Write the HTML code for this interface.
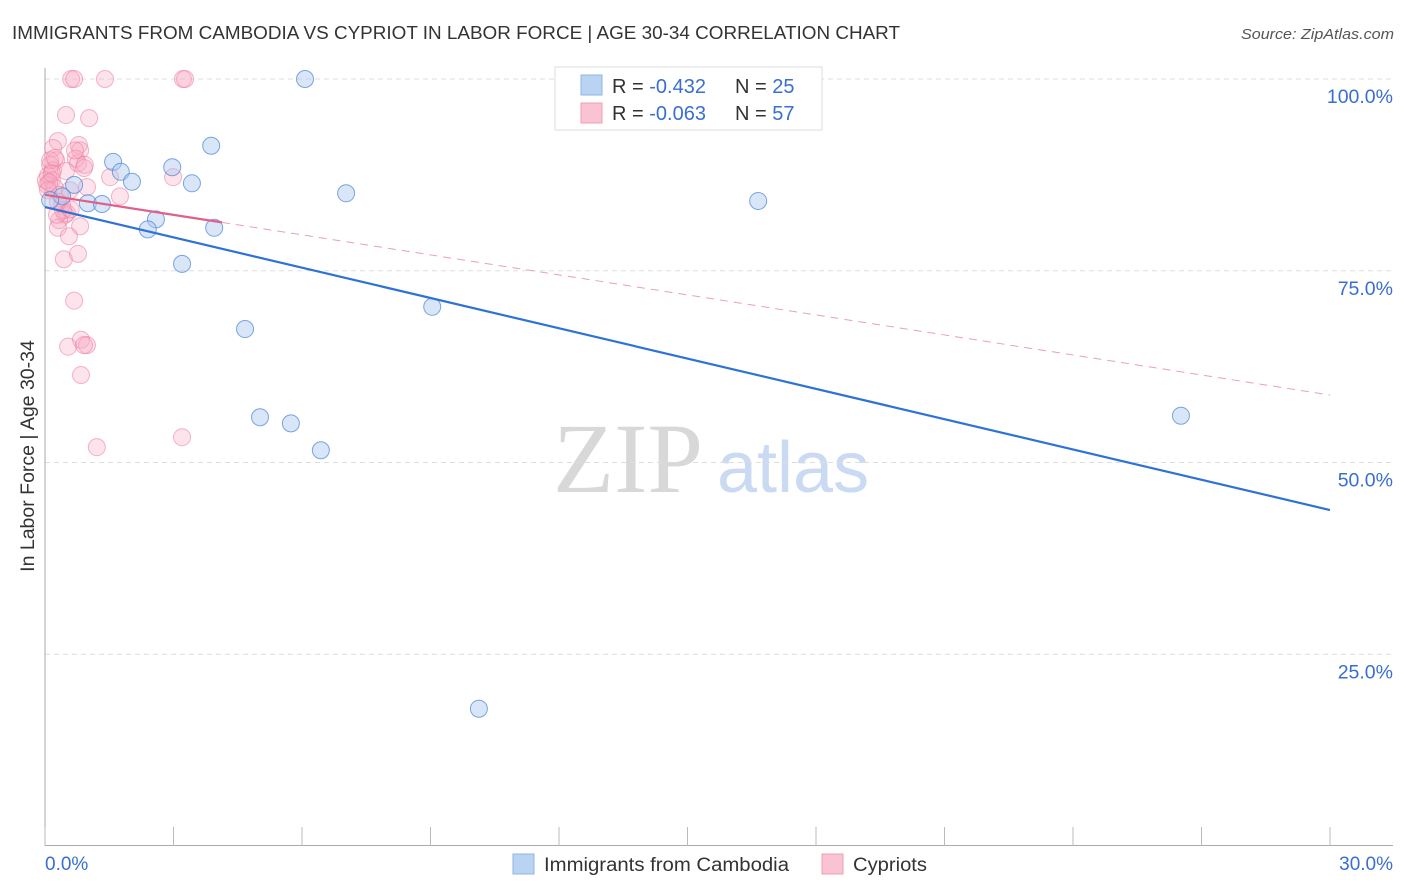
<!DOCTYPE html>
<html><head><meta charset="utf-8">
<style>
body{margin:0;background:#fff;font-family:"Liberation Sans",sans-serif;}
svg{display:block}
</style></head>
<body>
<svg id="chart" width="1406" height="892" xmlns="http://www.w3.org/2000/svg">
<text x="12" y="39" font-size="18" fill="#333" textLength="888" lengthAdjust="spacingAndGlyphs">IMMIGRANTS FROM CAMBODIA VS CYPRIOT IN LABOR FORCE | AGE 30-34 CORRELATION CHART</text>
<text x="1241" y="39" font-size="15" fill="#555" font-style="italic" textLength="153" lengthAdjust="spacingAndGlyphs">Source: ZipAtlas.com</text>
<g>
<text x="553" y="492" font-family="Liberation Serif,serif" font-size="100" fill="#d8d8d8">ZIP</text>
<text x="717" y="492" font-size="72" fill="#c9daf2">atlas</text>
</g>
<g id="grid"></g>
<g id="axes"></g>
<text transform="translate(34,456) rotate(-90)" font-size="19.5" fill="#333" text-anchor="middle">In Labor Force | Age 30-34</text>
<g id="pts"></g>
<g id="trend"></g>
<g>
<rect x="555" y="67" width="267" height="63" fill="#fff" stroke="#ddd"/>
<rect x="581" y="75" width="21" height="20" fill="#b9d3f3" stroke="#8fb4e6"/>
<rect x="581" y="103" width="21" height="20" fill="#fac3d3" stroke="#ef9fb6"/>
<text x="612" y="93" font-size="20" fill="#333">R = <tspan fill="#3a6fd0">-0.432</tspan><tspan x="735">N = </tspan><tspan fill="#3a6fd0">25</tspan></text>
<text x="612" y="120" font-size="20" fill="#333">R = <tspan fill="#3a6fd0">-0.063</tspan><tspan x="735">N = </tspan><tspan fill="#3a6fd0">57</tspan></text>
</g>
<g>
<rect x="513" y="854" width="21" height="20" fill="#b9d3f3" stroke="#8fb4e6"/>
<text x="544" y="871" font-size="19" fill="#333" textLength="245" lengthAdjust="spacingAndGlyphs">Immigrants from Cambodia</text>
<rect x="822" y="854" width="21" height="20" fill="#fac3d3" stroke="#ef9fb6"/>
<text x="853" y="871" font-size="19" fill="#333" textLength="74" lengthAdjust="spacingAndGlyphs">Cypriots</text>
</g>
</svg>
<script>
const blueX=[6.07,3.88,1.59,2.97,1.77,2.03,3.43,0.68,7.03,16.65,0.40,1.00,1.33,2.59,2.40,3.95,3.20,9.04,4.67,5.02,5.74,6.44,26.52,10.13,0.12];
const blueY=[100,91.3,89.2,88.5,87.9,86.6,86.4,86.2,85.1,84.1,84.7,83.8,83.7,81.7,80.4,80.6,75.9,70.3,67.4,55.9,55.1,51.6,56.1,17.9,84.2];
const pinkX=[0.61,0.68,1.40,3.22,3.27,0.49,1.03,0.30,0.19,0.79,0.82,0.26,0.72,0.77,0.91,0.12,0.19,0.07,0.16,0.05,0.23,0.98,1.52,2.99,1.75,0.35,0.40,0.51,0.47,0.33,0.82,0.30,0.56,0.44,0.77,0.68,0.84,0.54,0.98,0.91,0.84,1.21,3.20,0.02,0.07,0.12,0.23,0.58,0.42,0.28,0.70,0.93,0.49,0.16,0.10,0.30,0.60];
const pinkY=[100,100,100,100,100,95.3,94.9,91.9,91.0,91.4,90.7,89.4,89.6,89.0,88.4,88.8,88.1,87.4,86.8,86.2,85.8,85.9,87.2,87.2,84.7,84.9,83.6,82.5,82.3,81.6,80.8,80.6,79.5,76.5,77.2,71.1,66.0,65.1,65.3,65.3,61.4,52.0,53.3,86.8,85.5,89.4,89.7,85.5,82.9,82.3,90.7,88.8,88.0,87.7,86.5,84.0,83.0];
const blueTrend=[83.3,43.8];
const pinkTrend=[84.9,58.8];
const pinkSolidEnd=4.13;
const xTicks=[0,3,6,9,12,15,18,21,24,27,30];
const yTicks=[25,50,75,100];
const yTickLabels=["25.0%","50.0%","75.0%","100.0%"];
const NS="http://www.w3.org/2000/svg";
const xs=v=>45+v/30*1285;
const ys=v=>846-v/100*767;
function mk(tag,attrs,parent){const e=document.createElementNS(NS,tag);for(const k in attrs)e.setAttribute(k,attrs[k]);parent.appendChild(e);return e;}
const grid=document.getElementById('grid'),axes=document.getElementById('axes'),pts=document.getElementById('pts'),trend=document.getElementById('trend');
yTicks.forEach((t,i)=>{
  const l=mk('line',{x1:45,x2:1393,y1:ys(t),y2:ys(t),stroke:'#ddd','stroke-dasharray':'5,4'},grid);
  
  
  const tx=mk('text',{x:1393,y:ys(t)+24,'font-size':19.5,fill:'#3a6fd0','text-anchor':'end'},axes);
  tx.textContent=yTickLabels[i];
  
  
});
const ya=mk('line',{x1:45,x2:45,y1:68,y2:846,stroke:'#aaa'},axes);


const xa=mk('line',{x1:45,x2:1393,y1:845.5,y2:845.5,stroke:'#aaa'},axes);


xTicks.forEach(t=>{
  const l=mk('line',{x1:xs(t),x2:xs(t),y1:827,y2:846,stroke:'#bbb'},axes);
  
  
});
const x0=mk('text',{x:45,y:870,'font-size':19,fill:'#3a6fd0'},axes);x0.textContent="0.0%";


const x1=mk('text',{x:1393,y:870,'font-size':19,fill:'#3a6fd0','text-anchor':'end'},axes);x1.textContent="30.0%";


pinkX.forEach((v,i)=>{
  const c=mk('circle',{cx:xs(v),cy:ys(pinkY[i]),r:8.5,fill:'rgba(248,170,195,0.32)',stroke:'rgba(236,120,155,0.55)','stroke-width':1},pts);
  
  
});
blueX.forEach((v,i)=>{
  const c=mk('circle',{cx:xs(v),cy:ys(blueY[i]),r:8.5,fill:'rgba(170,200,240,0.45)',stroke:'rgba(70,130,215,0.7)','stroke-width':1},pts);
  
  
});
const bl=mk('line',{x1:xs(0),y1:ys(blueTrend[0]),x2:xs(30),y2:ys(blueTrend[1]),stroke:'#2f72d6','stroke-width':2.2},trend);


const pAt=x=>pinkTrend[0]+(pinkTrend[1]-pinkTrend[0])*x/30;
const pl=mk('line',{x1:xs(0),y1:ys(pinkTrend[0]),x2:xs(pinkSolidEnd),y2:ys(pAt(pinkSolidEnd)),stroke:'#e0608a','stroke-width':2.2},trend);


const pd=mk('line',{x1:xs(pinkSolidEnd),y1:ys(pAt(pinkSolidEnd)),x2:xs(30),y2:ys(pinkTrend[1]),stroke:'#e8a0b6','stroke-width':1,'stroke-dasharray':'8,6'},trend);


</script>
</body></html>
